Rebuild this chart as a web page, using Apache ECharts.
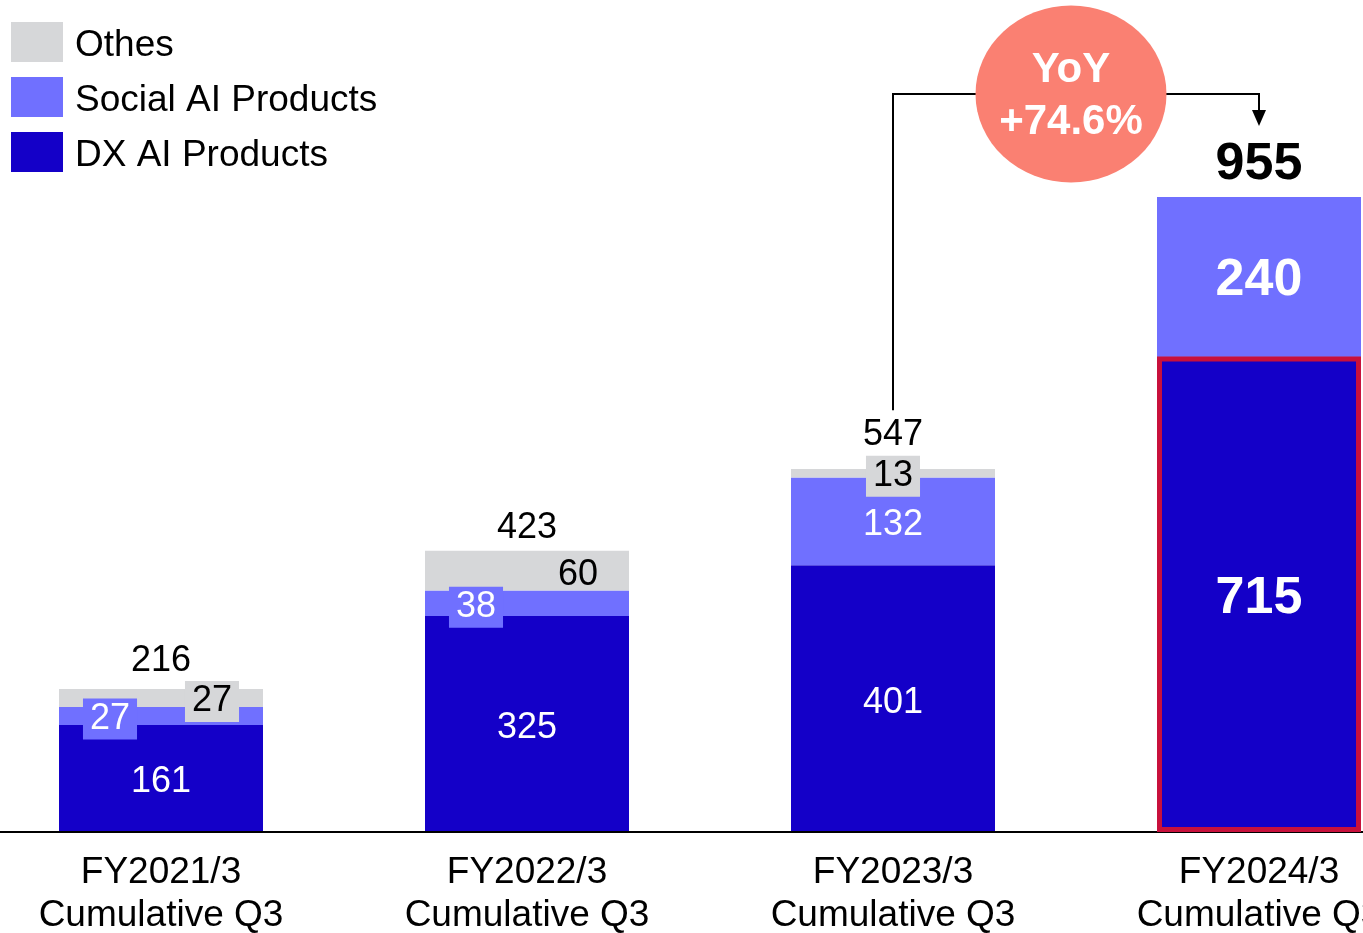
<!DOCTYPE html>
<html>
<head>
<meta charset="utf-8">
<script src="https://cdn.jsdelivr.net/npm/echarts@6/dist/echarts.min.js"></script>
<style>
  html, body { margin: 0; padding: 0; background: #fff; }
  #chart { width: 1363px; height: 933px; }
</style>
</head>
<body>
<div id="chart"></div>
<script>
// Cumulative Q3 sales by product line (stacked)
const categories = [
  'FY2021/3\nCumulative Q3',
  'FY2022/3\nCumulative Q3',
  'FY2023/3\nCumulative Q3',
  'FY2024/3\nCumulative Q3'
];
const dxValues = [161, 325, 401, 715];
const socialValues = [27, 38, 132, 240];
const otherValues = [27, 60, 13, 0];
const totalValues = [216, 423, 547, 955];

const FONT = 'Liberation Sans, Arial, Helvetica, sans-serif';
const DX_COLOR = '#1400C8';
const SOCIAL_COLOR = '#7070FF';
const OTHER_COLOR = '#D6D7D9';
const HIGHLIGHT_BORDER = '#C8103C';
const HIGHLIGHT_INDEX = 3;

// Year-over-year growth of the latest total
const yoy = ((totalValues[3] / totalValues[2] - 1) * 100).toFixed(1);

const TAG_PADDING = [4, 7, 1, 7];

// Per-bar label tweaks (small segments get a tag box off to one side)
const dxLabelStyle = {
  3: { fontSize: 52, fontWeight: 'bold' }
};
const socialLabelStyle = {
  0: { offset: [-51, 3], backgroundColor: SOCIAL_COLOR, padding: TAG_PADDING },
  1: { offset: [-51, 4], backgroundColor: SOCIAL_COLOR, padding: TAG_PADDING },
  3: { fontSize: 52, fontWeight: 'bold' }
};
const otherLabelStyle = {
  0: { offset: [51, 3.5], backgroundColor: OTHER_COLOR, padding: TAG_PADDING },
  1: { offset: [51, 4] },
  2: { offset: [0, 3], backgroundColor: OTHER_COLOR, padding: TAG_PADDING },
  3: { show: false }
};
const totalLabelStyle = {
  0: { offset: [0, -9] },
  1: { offset: [0, -4] },
  2: { offset: [0, -14.5] },
  3: { offset: [0, -6], fontSize: 52, fontWeight: 'bold' }
};

function withLabels(values, styles, base) {
  return values.map((v, i) => {
    const item = { value: v };
    if (styles[i]) item.label = Object.assign({}, base || {}, styles[i]);
    return item;
  });
}

const insideLabel = (color) => ({
  show: true,
  position: 'inside',
  offset: [0, 4],
  color: color,
  fontSize: 36,
  fontFamily: FONT
});

const chart = echarts.init(document.getElementById('chart'), null, { renderer: 'canvas' });

const option = {
  animation: false,
  backgroundColor: '#ffffff',
  textStyle: { fontFamily: FONT },
  legend: {
    orient: 'vertical',
    left: 11,
    top: 19.5,
    padding: 0,
    itemWidth: 52,
    itemHeight: 40,
    itemGap: 10,
    icon: 'rect',
    data: ['Othes', 'Social AI Products', 'DX AI Products'],
    formatter: (name) => '{t|' + name + '}',
    textStyle: {
      color: '#000',
      fontFamily: FONT,
      rich: {
        t: { fontSize: 37, color: '#000', fontFamily: FONT, lineHeight: 32, padding: [8, 0, 0, 7] }
      }
    }
  },
  grid: {
    left: 161, right: 104, top: 167, bottom: 101,
    containLabel: false,
    outerBoundsMode: 'none'
  },
  xAxis: {
    type: 'category',
    data: categories,
    boundaryGap: false,
    axisTick: { show: false },
    axisLine: { show: false },
    axisLabel: {
      color: '#000',
      fontSize: 37,
      lineHeight: 43,
      margin: 19,
      fontFamily: FONT,
      interval: 0
    }
  },
  yAxis: { type: 'value', min: 0, max: 1000, show: false, splitLine: { show: false } },
  series: [
    {
      name: 'DX AI Products',
      type: 'bar',
      stack: 'sales',
      barWidth: 204,
      barGap: '-100%',
      itemStyle: { color: DX_COLOR },
      label: insideLabel('#fff'),
      data: withLabels(dxValues, dxLabelStyle, { offset: [0, 4] })
    },
    {
      name: 'Social AI Products',
      type: 'bar',
      stack: 'sales',
      barWidth: 204,
      barGap: '-100%',
      itemStyle: { color: SOCIAL_COLOR },
      label: insideLabel('#fff'),
      data: withLabels(socialValues, socialLabelStyle, { offset: [0, 4] })
    },
    {
      name: 'Othes',
      type: 'bar',
      stack: 'sales',
      barWidth: 204,
      barGap: '-100%',
      itemStyle: { color: OTHER_COLOR },
      label: insideLabel('#000'),
      data: withLabels(otherValues, otherLabelStyle)
    },
    {
      // outline around the latest DX bar
      name: 'Highlight',
      type: 'bar',
      barWidth: 204,
      barGap: '-100%',
      silent: true,
      z: 4,
      itemStyle: { color: 'rgba(0,0,0,0)', borderColor: HIGHLIGHT_BORDER, borderWidth: 5 },
      label: { show: false },
      data: dxValues.map((v, i) => (i === HIGHLIGHT_INDEX ? v : '-'))
    },
    {
      name: 'Total',
      type: 'scatter',
      symbolSize: 1,
      silent: true,
      itemStyle: { color: 'rgba(0,0,0,0)' },
      label: {
        show: true,
        position: 'top',
        distance: 0,
        color: '#000',
        opacity: 1,
        fontSize: 36,
        fontFamily: FONT
      },
      data: withLabels(totalValues, totalLabelStyle, { color: '#000' }),
      z: 5
    }
  ]
};

chart.setOption(option);

// Baseline across the full width, at value 0
const base = chart.convertToPixel({ gridIndex: 0 }, [0, 0]);
// YoY callout: bubble between the last two bars, elbow connectors from their totals
const pPrev = chart.convertToPixel({ gridIndex: 0 }, [2, totalValues[2]]);
const pLast = chart.convertToPixel({ gridIndex: 0 }, [3, totalValues[3]]);
const bubbleY = 94;
const bubbleX = (pPrev[0] + pLast[0]) / 2 - 5;
const rx = 95.5, ry = 88.5;
const arrowTip = pLast[1] - 71;

chart.setOption({
  graphic: [
    {
      type: 'line',
      z: 3,
      shape: { x1: 0, y1: base[1], x2: 1363, y2: base[1] },
      style: { stroke: '#000', lineWidth: 2 }
    },
    {
      type: 'polyline',
      z: 10,
      shape: { points: [[pPrev[0], pPrev[1] - 58], [pPrev[0], bubbleY], [bubbleX - rx + 2, bubbleY]] },
      style: { stroke: '#000', lineWidth: 2, fill: null }
    },
    {
      type: 'polyline',
      z: 10,
      shape: { points: [[bubbleX + rx - 2, bubbleY], [pLast[0], bubbleY], [pLast[0], arrowTip - 14]] },
      style: { stroke: '#000', lineWidth: 2, fill: null }
    },
    {
      type: 'polygon',
      z: 10,
      shape: { points: [[pLast[0] - 7, arrowTip - 16], [pLast[0] + 7, arrowTip - 16], [pLast[0], arrowTip]] },
      style: { fill: '#000' }
    },
    {
      type: 'circle',
      z: 11,
      x: bubbleX,
      y: bubbleY,
      scaleX: rx / ry,
      shape: { cx: 0, cy: 0, r: ry },
      style: { fill: '#FA8072' }
    },
    {
      type: 'text',
      z: 12,
      x: bubbleX,
      y: bubbleY + 2,
      style: {
        text: 'YoY\n+' + yoy + '%',
        fill: '#fff',
        fontSize: 42,
        fontWeight: 'bold',
        fontFamily: FONT,
        lineHeight: 52,
        align: 'center',
        verticalAlign: 'middle'
      }
    }
  ]
});
</script>
</body>
</html>
